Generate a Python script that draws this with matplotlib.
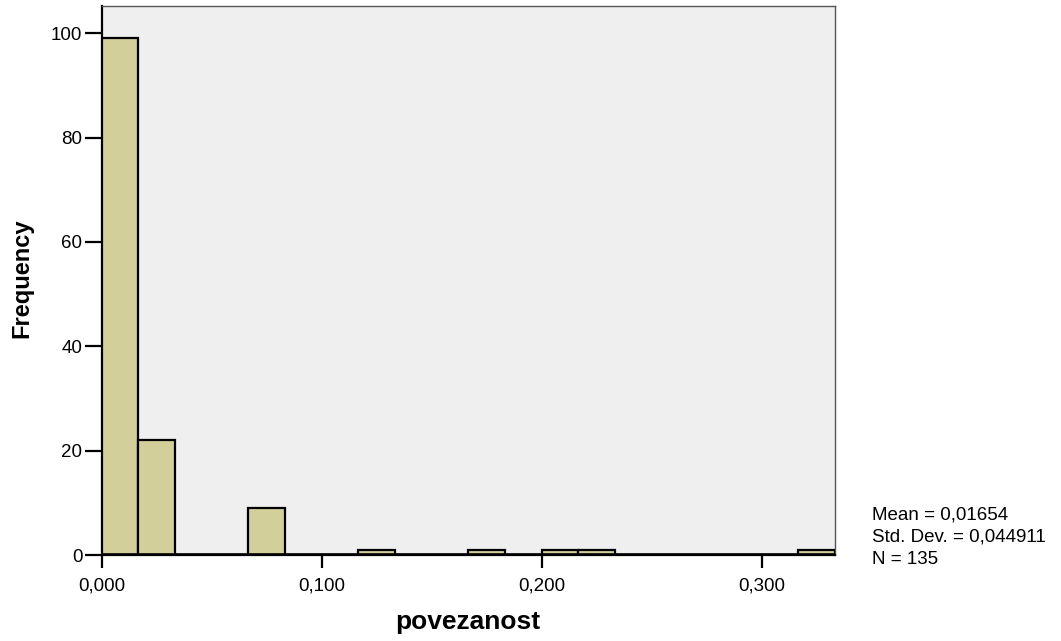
import numpy as np
import matplotlib
matplotlib.use("Agg")
import matplotlib.pyplot as plt
from matplotlib.ticker import FuncFormatter

plt.rcParams['font.family'] = ['Liberation Sans', 'DejaVu Sans']

# Histogram of "povezanost": 20 bins of width 1/60 starting at 0
bin_start = 0.0
bin_width = 1 / 60
counts = [99, 22, 0, 0, 9, 0, 0, 1, 0, 0, 1, 0, 1, 1, 0, 0, 0, 0, 0, 1]
x_ticks = [0.0, 0.1, 0.2, 0.3]
y_ticks = [0, 20, 40, 60, 80, 100]
stats_lines = ["Mean = 0,01654", "Std. Dev. = 0,044911", "N = 135"]

W, H = 1061, 641
fig = plt.figure(figsize=(W / 100, H / 100), dpi=100)
ax = fig.add_axes([101.7 / W, 1 - 555 / H, (835 - 101.7) / W, (555 - 6) / H])
ax.set_facecolor('#EFEFEF')

lefts = bin_start + bin_width * np.arange(len(counts))
ax.bar(lefts, counts, width=bin_width, align='edge', color='#D3CF9B',
       edgecolor='black', linewidth=1.6, zorder=3)
# empty bins show as a heavy baseline
ax.axhline(0, color='black', linewidth=2.6, zorder=4)

ax.set_xlim(bin_start, bin_start + bin_width * len(counts))
ax.set_ylim(0, 105.2)

ax.set_xticks(x_ticks)
ax.set_yticks(y_ticks)
ax.xaxis.set_major_formatter(FuncFormatter(lambda v, p: f"{v:.3f}".replace('.', ',')))
ax.tick_params(axis='x', direction='out', length=9.5, width=1.6, labelsize=13.5,
               pad=7, color='black')
ax.tick_params(axis='y', direction='out', length=12, width=1.6, labelsize=13.5,
               pad=2, color='black')

for side in ('top', 'right'):
    ax.spines[side].set_color('#555555')
    ax.spines[side].set_linewidth(1.0)
ax.spines['left'].set_color('black')
ax.spines['left'].set_linewidth(1.6)
ax.spines['bottom'].set_color('black')
ax.spines['bottom'].set_linewidth(1.6)

fig.text(468 / W, 1 - 622 / H, 'povezanost', fontsize=19, fontweight='bold',
         ha='center', va='center')
fig.text(22 / W, 1 - 278 / H, 'Frequency', fontsize=17, fontweight='bold',
         ha='center', va='center', rotation=90)

for i, line in enumerate(stats_lines):
    fig.text(871.7 / W, 1 - (515 + 22 * i) / H, line, fontsize=13.5,
             va='center', ha='left')

fig.savefig('out.png', dpi=100, facecolor='white')
